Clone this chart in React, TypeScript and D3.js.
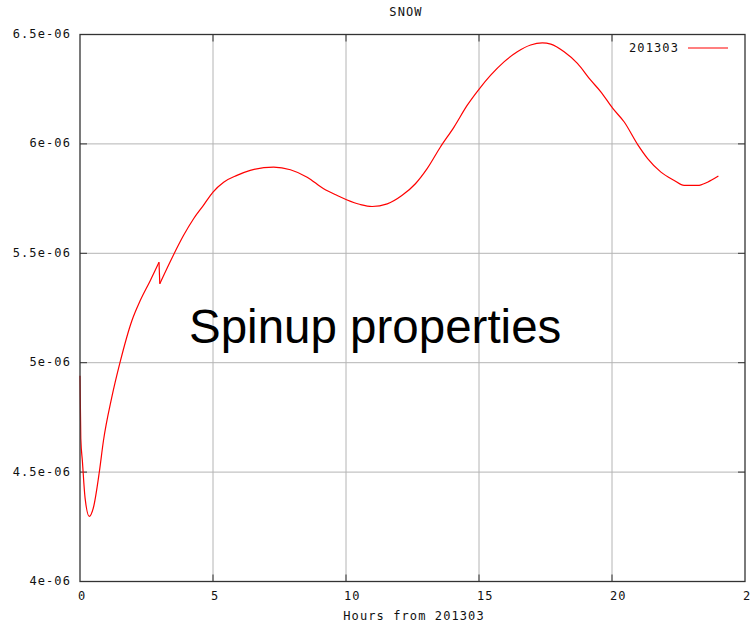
import * as d3 from "d3";

// hours since start of run
const hours = [
  0, 0.03, 0.09, 0.19, 0.35, 0.5, 0.73, 0.88, 1.19, 1.5, 1.95, 2.26, 2.64, 2.97, 3.0,
  3.5, 3.89, 4.27, 4.64, 5.0, 5.4, 5.9, 6.4, 7.28, 7.91, 8.54, 9.16, 9.67, 10.02,
  10.54, 10.98, 11.55, 12.1, 12.61, 13.05, 13.55, 14.06, 14.56, 15.02, 15.44, 15.94,
  16.44, 16.94, 17.38, 17.7, 18.2, 18.7, 19.2, 19.58, 20.03, 20.46, 20.96, 21.34,
  21.84, 22.34, 22.71, 23.22, 23.59, 24.0,
];

// SNOW, in units of 1e-06
const snow = [
  4.94, 4.655, 4.55, 4.382, 4.298, 4.336, 4.504, 4.642, 4.839, 4.999, 5.192, 5.283,
  5.375, 5.459, 5.361, 5.489, 5.581, 5.658, 5.719, 5.78, 5.825, 5.856, 5.879, 5.894,
  5.882, 5.848, 5.795, 5.764, 5.745, 5.723, 5.714, 5.726, 5.764, 5.818, 5.887, 5.986,
  6.077, 6.177, 6.253, 6.314, 6.375, 6.421, 6.452, 6.462, 6.456, 6.421, 6.368, 6.291,
  6.238, 6.162, 6.1, 5.998, 5.933, 5.871, 5.833, 5.81, 5.81, 5.825, 5.853,
];

const xTicks = [0, 5, 10, 15, 20, 25];
const yTicks = [4, 4.5, 5, 5.5, 6, 6.5];
const yTickLabels = ["4e-06", "4.5e-06", "5e-06", "5.5e-06", "6e-06", "6.5e-06"];
const seriesName = "201303";
// the model restart at 3h gives a sudden jump in the series
const restartHour = 3.0;

const W = 750;
const H = 626;
const left = 80;
const right = 745;
const top = 34.5;
const bottom = 581.5;
const mono = "'DejaVu Sans Mono', monospace";

export default function App() {
  const x = d3.scaleLinear().domain([0, 25]).range([left, right]);
  const y = d3.scaleLinear().domain([4, 6.5]).range([bottom, top]);

  const pts: [number, number][] = hours.map((h, i) => [h, snow[i]]);
  const before = pts.filter((d) => d[0] < restartHour);
  const after = pts.filter((d) => d[0] >= restartHour);

  const smooth = d3
    .line<[number, number]>()
    .x((d) => x(d[0]))
    .y((d) => y(d[1]))
    .curve(d3.curveMonotoneX);
  const straight = d3
    .line<[number, number]>()
    .x((d) => x(d[0]))
    .y((d) => y(d[1]));

  const tickText = {
    fontFamily: mono,
    fontSize: 12,
    letterSpacing: 1.1,
    fill: "#111",
  } as const;

  return (
    <svg
      width={W}
      height={H}
      style={{ position: "absolute", left: 0, top: 0, background: "#fff" }}
    >
      {/* grid */}
      {xTicks.slice(1, -1).map((t) => (
        <line key={"gx" + t} x1={x(t)} x2={x(t)} y1={top} y2={bottom} stroke="#b4b4b4" strokeWidth={1} />
      ))}
      {yTicks.slice(1, -1).map((t) => (
        <line key={"gy" + t} x1={left} x2={right} y1={y(t)} y2={y(t)} stroke="#b4b4b4" strokeWidth={1} />
      ))}

      {/* tick marks */}
      {xTicks.slice(1, -1).map((t) => (
        <g key={"tx" + t} stroke="#333" strokeWidth={1}>
          <line x1={x(t)} x2={x(t)} y1={bottom} y2={bottom - 7} />
          <line x1={x(t)} x2={x(t)} y1={top} y2={top + 7} />
        </g>
      ))}
      {yTicks.slice(1, -1).map((t) => (
        <g key={"ty" + t} stroke="#333" strokeWidth={1}>
          <line x1={left} x2={left + 7} y1={y(t)} y2={y(t)} />
          <line x1={right} x2={right - 7} y1={y(t)} y2={y(t)} />
        </g>
      ))}

      {/* series */}
      <g fill="none" stroke="#ff0000" strokeWidth={1.2}>
        <path d={smooth(before) || ""} />
        <path d={straight([before[before.length - 1], after[0]]) || ""} />
        <path d={smooth(after) || ""} />
      </g>

      {/* frame */}
      <rect x={left} y={top} width={right - left} height={bottom - top} fill="none" stroke="#333" strokeWidth={1.3} />

      {/* tick labels */}
      {xTicks.map((t) => (
        <text key={"lx" + t} x={x(t) - 2} y={596} dominantBaseline="middle" {...tickText}>
          {t}
        </text>
      ))}
      {yTicks.map((t, i) => (
        <text key={"ly" + t} x={71} y={y(t)} textAnchor="end" dominantBaseline="middle" {...tickText}>
          {yTickLabels[i]}
        </text>
      ))}

      {/* titles */}
      <text x={406} y={12.5} textAnchor="middle" dominantBaseline="middle" {...tickText}>
        SNOW
      </text>
      <text x={414} y={616} textAnchor="middle" dominantBaseline="middle" {...tickText}>
        Hours from 201303
      </text>

      {/* legend */}
      <text x={679} y={48} textAnchor="end" dominantBaseline="middle" {...tickText}>
        {seriesName}
      </text>
      <line x1={688} x2={728} y1={48} y2={48} stroke="#ff0000" strokeWidth={1.2} />

      {/* overlay caption */}
      <text
        x={189}
        y={343}
        fontFamily="'Liberation Sans', Arial, sans-serif"
        fontSize={47.5}
        fill="#000"
      >
        Spinup properties
      </text>
    </svg>
  );
}
